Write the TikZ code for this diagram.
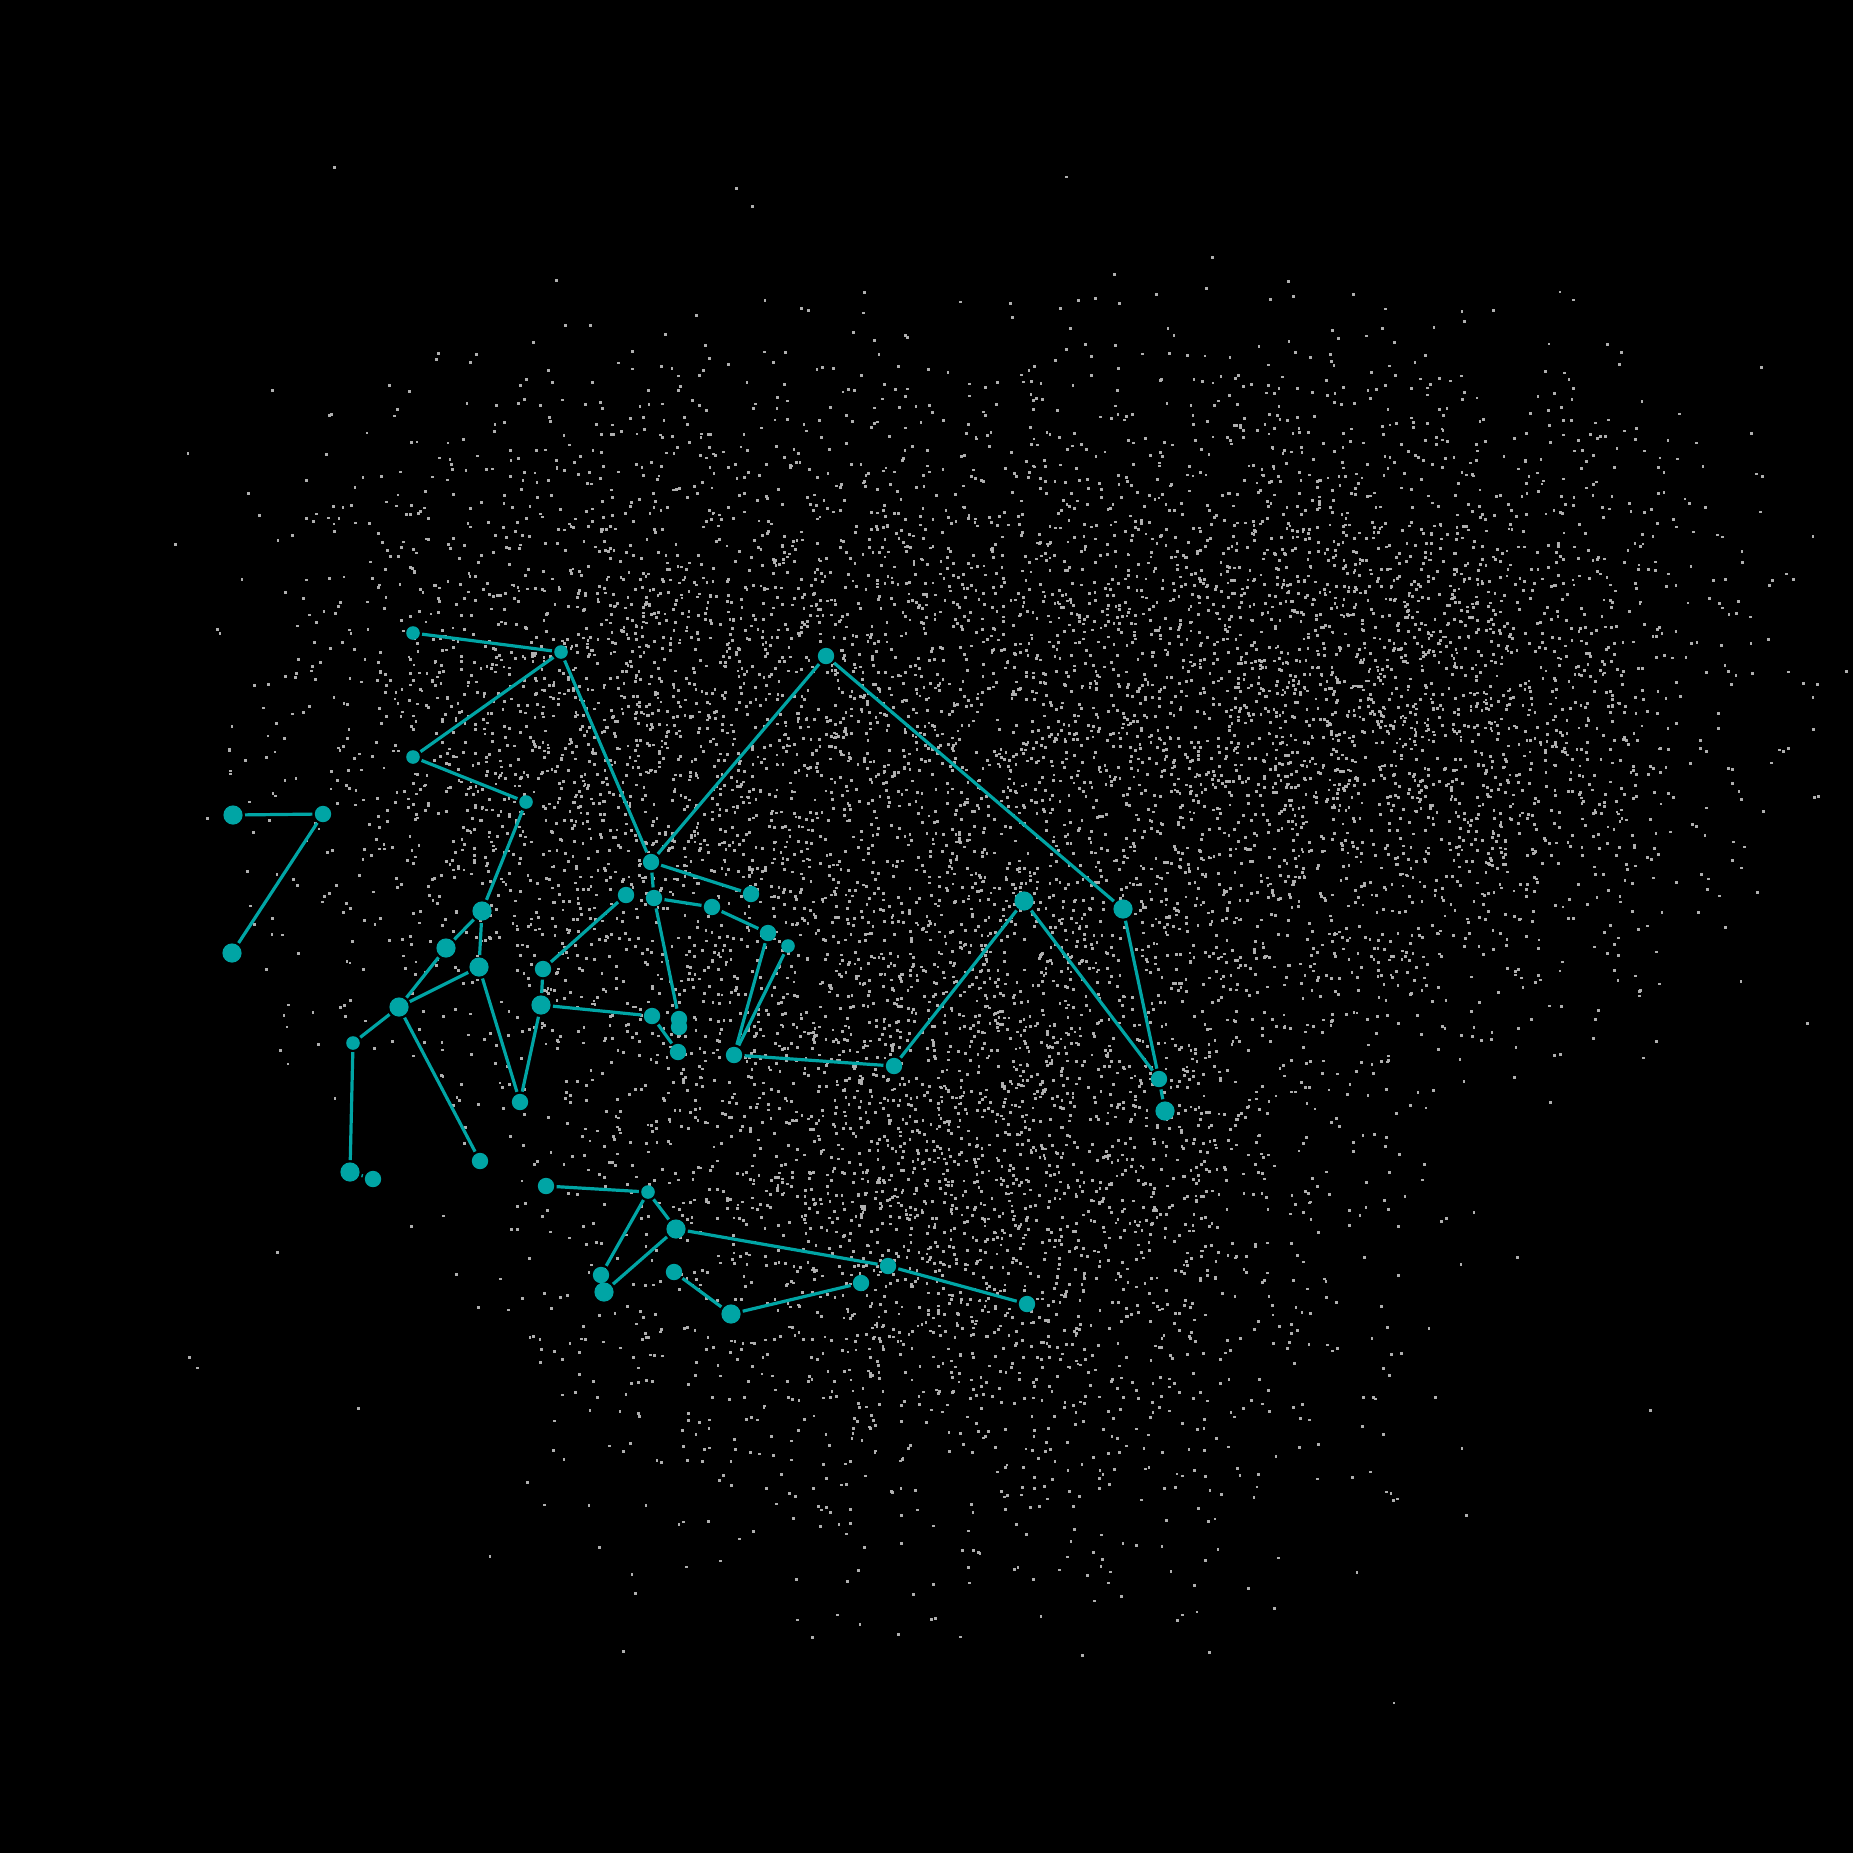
\documentclass[tikz,border=0pt]{standalone}
\usepackage{tikz}
\usetikzlibrary{arrows,shapes,positioning}
\usepackage{xcolor}
\definecolor{skyteal}{RGB}{0,165,165}
\definecolor{dustgray}{RGB}{175,175,175}
\tikzstyle{smallstar} = [circle,fill=skyteal,inner sep=0pt,outer sep=0.6pt,minimum size=3.4pt]
\tikzstyle{star} = [circle,fill=skyteal,inner sep=0pt,outer sep=0.6pt,minimum size=4.1pt]
\tikzstyle{bigstar} = [circle,fill=skyteal,inner sep=0pt,outer sep=0.6pt,minimum size=4.8pt]
\tikzstyle{link} = [line width=0.8pt,draw=skyteal]

\begin{document}
\begin{tikzpicture}[x=0.25pt,y=-0.25pt]
% Sky
\fill[black] (0,0) rectangle (1853,1853);
\useasboundingbox (0,0) rectangle (1853,1853);

% Background stars
\pgfmathsetseed{2718}
\begin{scope}[dustgray]
\foreach \cx/\cy/\sx/\sy/\n in {1395/690/160/150/2600, 575/715/150/155/1700,
    980/620/170/130/1200, 969/1205/190/170/2400, 945/920/230/160/1600,
    922/900/300/280/500}{
  \foreach \k in {1,...,\n}{
    \pgfmathsetmacro\px{\cx+\sx*(rand+rand+rand)}
    \pgfmathsetmacro\py{\cy+\sy*(rand+rand+rand)}
    \fill (\px,\py) rectangle ++(2.8,2.8);
  }
}
\end{scope}

% Upper left group
\node[smallstar] (a) at (413,633) {};
\node[smallstar] (b) at (561,652) {};
\node[smallstar] (c) at (413,757) {};
\node[smallstar] (d) at (526,802) {};
\node[bigstar] (e) at (233,815) {};
\node[star] (f) at (323,814) {};
\node[bigstar] (g) at (232,953) {};
\node[bigstar] (h) at (482,911) {};
\node[bigstar] (i) at (446,948) {};
\node[bigstar] (j) at (479,967) {};
\node[bigstar] (k) at (399,1007) {};
\node[smallstar] (l) at (353,1043) {};
\node[bigstar] (l2) at (350,1172) {};
\node[star] (l3) at (373,1179) {};
\node[star] (k4) at (480,1161) {};
\node[star] (bn) at (520,1102) {};
\node[star] (m) at (543,969) {};
\node[bigstar] (n) at (541,1005) {};

% Central group
\node[star] (o) at (626,895) {};
\node[star] (p) at (651,862) {};
\node[star] (q) at (826,656) {};
\node[star] (r) at (654,898) {};
\node[star] (s) at (751,894) {};
\node[star] (t) at (712,907) {};
\node[star] (u) at (768,933) {};
\node[smallstar] (v) at (788,946) {};
\node[star] (w) at (652,1016) {};
\node[star] (x1) at (679,1019) {};
\node[star] (x2) at (679,1027) {};
\node[star] (y) at (678,1052) {};
\node[star] (z) at (734,1055) {};
\node[star] (aa) at (894,1066) {};

% Right group
\node[bigstar] (bb) at (1024,901) {};
\node[bigstar] (cc) at (1123,909) {};
\node[star] (dd) at (1159,1079) {};
\node[bigstar] (ee) at (1165,1111) {};

% Lower group
\node[star] (c1) at (546,1186) {};
\node[smallstar] (c2) at (648,1192) {};
\node[bigstar] (c3) at (676,1229) {};
\node[star] (c4) at (601,1275) {};
\node[bigstar] (c5) at (604,1292) {};
\node[star] (c6) at (674,1272) {};
\node[bigstar] (c7) at (731,1314) {};
\node[star] (c8) at (861,1283) {};
\node[star] (c9) at (888,1266) {};
\node[star] (c10) at (1027,1304) {};

% Links
\draw[link] (a) -- (b);
\draw[link] (b) -- (c);
\draw[link] (c) -- (d);
\draw[link] (b) -- (p);
\draw[link] (e) -- (f);
\draw[link] (f) -- (g);
\draw[link] (d) -- (h);
\draw[link] (h) -- (i);
\draw[link] (h) -- (j);
\draw[link] (i) -- (k);
\draw[link] (k) -- (j);
\draw[link] (k) -- (l);
\draw[link] (l) -- (l2);
\draw[link] (l2) -- (l3);
\draw[link] (k) -- (k4);
\draw[link] (j) -- (bn);
\draw[link] (n) -- (bn);
\draw[link] (m) -- (n);
\draw[link] (o) -- (m);
\draw[link] (p) -- (q);
\draw[link] (p) -- (r);
\draw[link] (p) -- (s);
\draw[link] (r) -- (t);
\draw[link] (t) -- (u);
\draw[link] (r) -- (x1);
\draw[link] (n) -- (w);
\draw[link] (w) -- (y);
\draw[link] (u) -- (z);
\draw[link] (v) -- (z);
\draw[link] (z) -- (aa);
\draw[link] (aa) -- (bb);
\draw[link] (bb) -- (dd);
\draw[link] (q) -- (cc);
\draw[link] (cc) -- (dd);
\draw[link] (dd) -- (ee);
\draw[link] (c1) -- (c2);
\draw[link] (c2) -- (c3);
\draw[link] (c2) -- (c4);
\draw[link] (c3) -- (c5);
\draw[link] (c3) -- (c9);
\draw[link] (c6) -- (c7);
\draw[link] (c7) -- (c8);
\draw[link] (c9) -- (c10);
\end{tikzpicture}
\end{document}
